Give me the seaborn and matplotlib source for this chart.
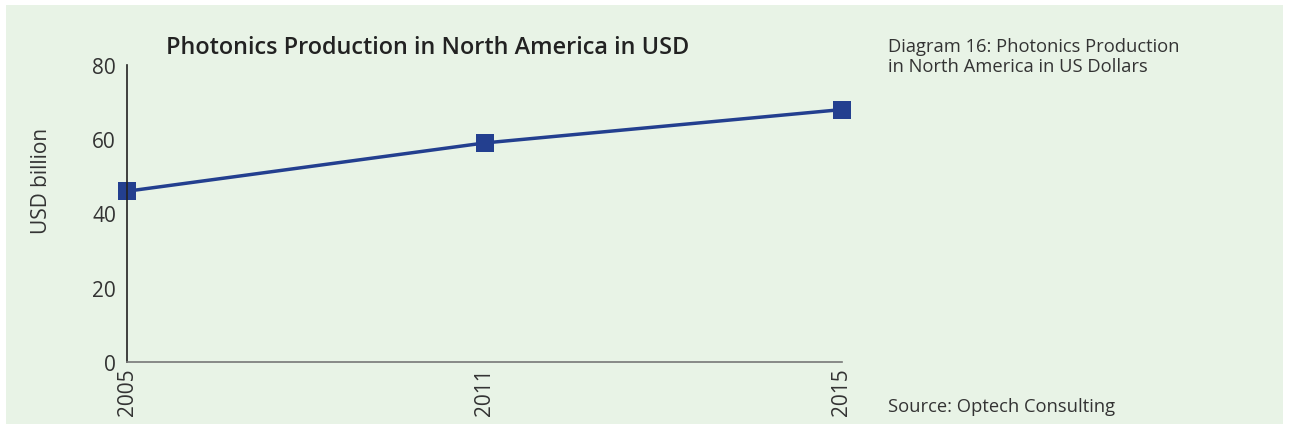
import matplotlib
matplotlib.use("Agg")
import matplotlib.pyplot as plt
import pandas as pd
import seaborn as sns
from matplotlib.patches import Rectangle

# --- Data ---
years = ["2005", "2011", "2015"]
production = [46, 59, 68]  # USD billion

df = pd.DataFrame({"year": years, "usd": production})

sns.set_style("white")
plt.rcParams["font.family"] = ["Open Sans", "DejaVu Sans"]

BG = "#e8f3e6"
LINE = "#233f8f"
TEXT = "#333333"

fig = plt.figure(figsize=(12.89, 4.31), dpi=100, facecolor="white")
# green panel with thin white margin
fig.patches.append(Rectangle((6 / 1289, 6 / 431), 1277 / 1289, 419 / 431,
                             transform=fig.transFigure, facecolor=BG,
                             edgecolor="none", zorder=-10))

ax = fig.add_axes([127 / 1289, 1 - 363 / 431, 715 / 1289, 297 / 431])
ax.set_facecolor("none")

sns.lineplot(data=df, x="year", y="usd", ax=ax, color=LINE, linewidth=2.5,
             marker="s", markersize=12.5, markeredgewidth=0, clip_on=False,
             sort=False)

ax.set_xlim(0, len(years) - 1)
ax.set_ylim(0, 80)
ax.set_yticks([0, 20, 40, 60, 80])
ax.tick_params(axis="both", length=0, labelsize=15, colors=TEXT, pad=8)
ax.tick_params(axis="x", rotation=90, pad=4)
ax.set_xlabel("")
ax.set_ylabel("USD billion", fontsize=15, color=TEXT)
ax.yaxis.set_label_coords(-0.105, 0.613)

for side in ["top", "right"]:
    ax.spines[side].set_visible(False)
ax.spines["left"].set_color("#222222")
ax.spines["left"].set_linewidth(1.2)
ax.spines["bottom"].set_color("#777777")
ax.spines["bottom"].set_linewidth(1.2)

fig.text(428 / 1289, 1 - 48 / 431, "Photonics Production in North America in USD",
         ha="center", va="center", fontsize=16.9, fontweight="semibold", color="#222222")

fig.text(888 / 1289, 1 - 57 / 431, "Diagram 16: Photonics Production\nin North America in US Dollars",
         ha="left", va="center", fontsize=13.2, color=TEXT, linespacing=1.2)
fig.text(888 / 1289, 1 - 407 / 431, "Source: Optech Consulting",
         ha="left", va="center", fontsize=13.2, color=TEXT)

fig.savefig("out.png", dpi=100, facecolor="white")
